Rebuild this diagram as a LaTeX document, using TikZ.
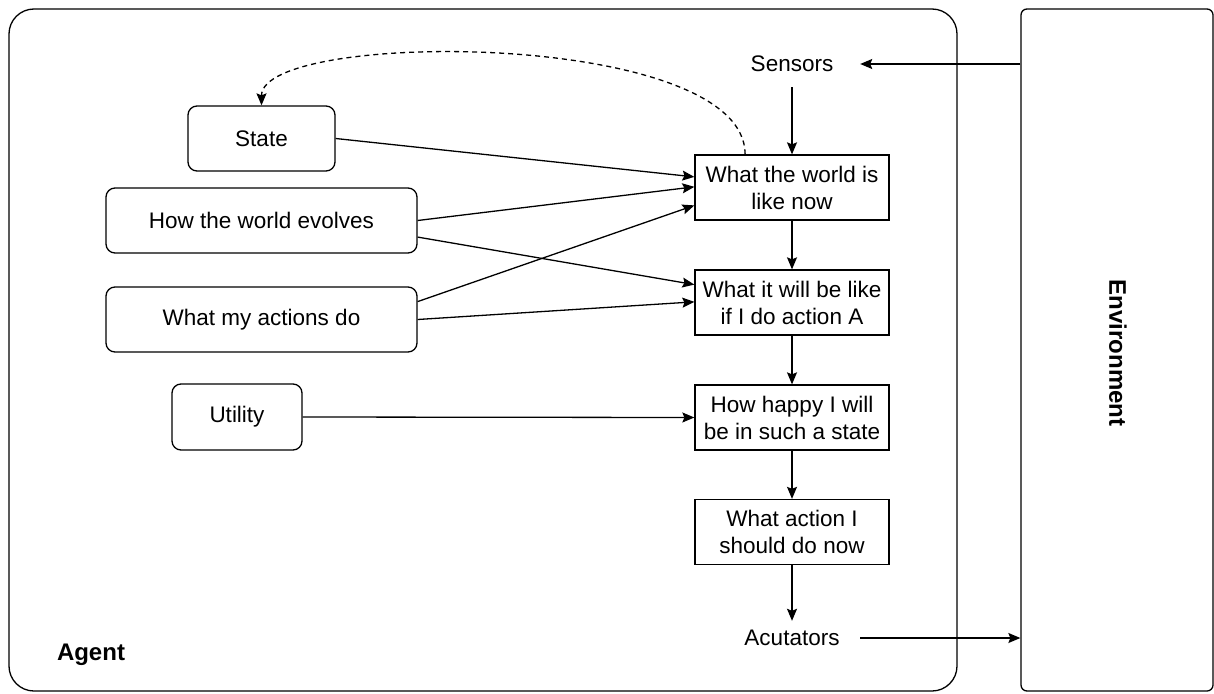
\documentclass[tikz,border=0pt]{standalone}
\usepackage{fontspec}
\setmainfont{Liberation Sans}
\usetikzlibrary{arrows.meta,calc}
\begin{document}
\begin{tikzpicture}[x=1pt,y=-1pt,
  every node/.style={font=\fontsize{22.5}{27}\selectfont, inner sep=0pt},
  lbl/.style={font=\fontsize{24}{28}\selectfont\bfseries},
  outerbox/.style={draw, line width=1.3pt, rounded corners=25pt},
  envbox/.style={draw, line width=1.3pt, rounded corners=6pt},
  knowbox/.style={draw, line width=1.3pt, rounded corners=9pt},
  procbox/.style={draw, line width=1.3pt, minimum width=194pt, minimum height=65pt, align=center},
  plain/.style={minimum width=136pt},
  arr/.style={line width=1.3pt, -{Stealth[length=12pt,width=10pt,inset=2pt]}},
  dasharr/.style={arr, dashed, dash pattern=on 5pt off 4pt}
]
\useasboundingbox (0,0) rectangle (1214,693);

% containers
\node[outerbox, minimum width=948pt, minimum height=682pt] (agent) at (483,350) {};
\node[envbox, minimum width=192pt, minimum height=682pt] (env) at (1117,350) {};
\node[lbl, rotate=-90] (envlabel) at (1118,353) {Environment};
\node[lbl] (agentlabel) at (91,655) {Agent};

% sensors / actuators
\node[plain, minimum height=46pt] (sensors) at (792,64) {Sensors};
\node[plain, minimum height=34pt] (act) at (792,638) {Acutators};

% process boxes
\node[procbox] (w1) at (792,187.5) {What the world is\\like now};
\node[procbox] (w2) at (792,302.5) {What it will be like\\if I do action A};
\node[procbox] (w3) at (792,417.5) {How happy I will\\be in such a state};
\node[procbox] (w4) at (792,532) {What action I\\should do now};

% knowledge boxes
\node[knowbox, minimum width=147pt, minimum height=65pt] (state) at (261.5,138.5) {State};
\node[knowbox, minimum width=311pt, minimum height=65pt] (evolves) at (261.5,220.5) {How the world evolves};
\node[knowbox, minimum width=311pt, minimum height=65pt] (actions) at (261.5,319.5) {What my actions do};
\node[knowbox, minimum width=130pt, minimum height=66pt] (utility) at (237,417) {Utility};

% connectors
\draw[arr] (env.west |- sensors.east) -- (sensors.east);
\draw[arr] (sensors.south) -- (w1.north);
\draw[arr] (w1.south) -- (w2.north);
\draw[arr] (w2.south) -- (w3.north);
\draw[arr] (w3.south) -- (w4.north);
\draw[arr] (w4.south) -- (act.north);
\draw[arr] (act.east) -- (env.west |- act.east);

\draw[arr] (state.east) -- ($(w1.north west)!0.34!(w1.south west)$);
\draw[arr] (evolves.east) -- ($(w1.north west)!0.49!(w1.south west)$);
\draw[arr] ($(evolves.north east)!0.75!(evolves.south east)$) -- ($(w2.north west)!0.23!(w2.south west)$);
\draw[arr] ($(actions.north east)!0.23!(actions.south east)$) -- ($(w1.north west)!0.77!(w1.south west)$);
\draw[arr] (actions.east) -- ($(w2.north west)!0.49!(w2.south west)$);
\draw[arr] (utility.east) -- (w3.west);

\coordinate (dstart) at ($(w1.north west)!0.26!(w1.north east)$);
\draw[dasharr] (dstart) .. controls ($(dstart)+(0,-125)$) and ($(state.north)+(0,-76)$) .. (state.north);
\end{tikzpicture}
\end{document}
